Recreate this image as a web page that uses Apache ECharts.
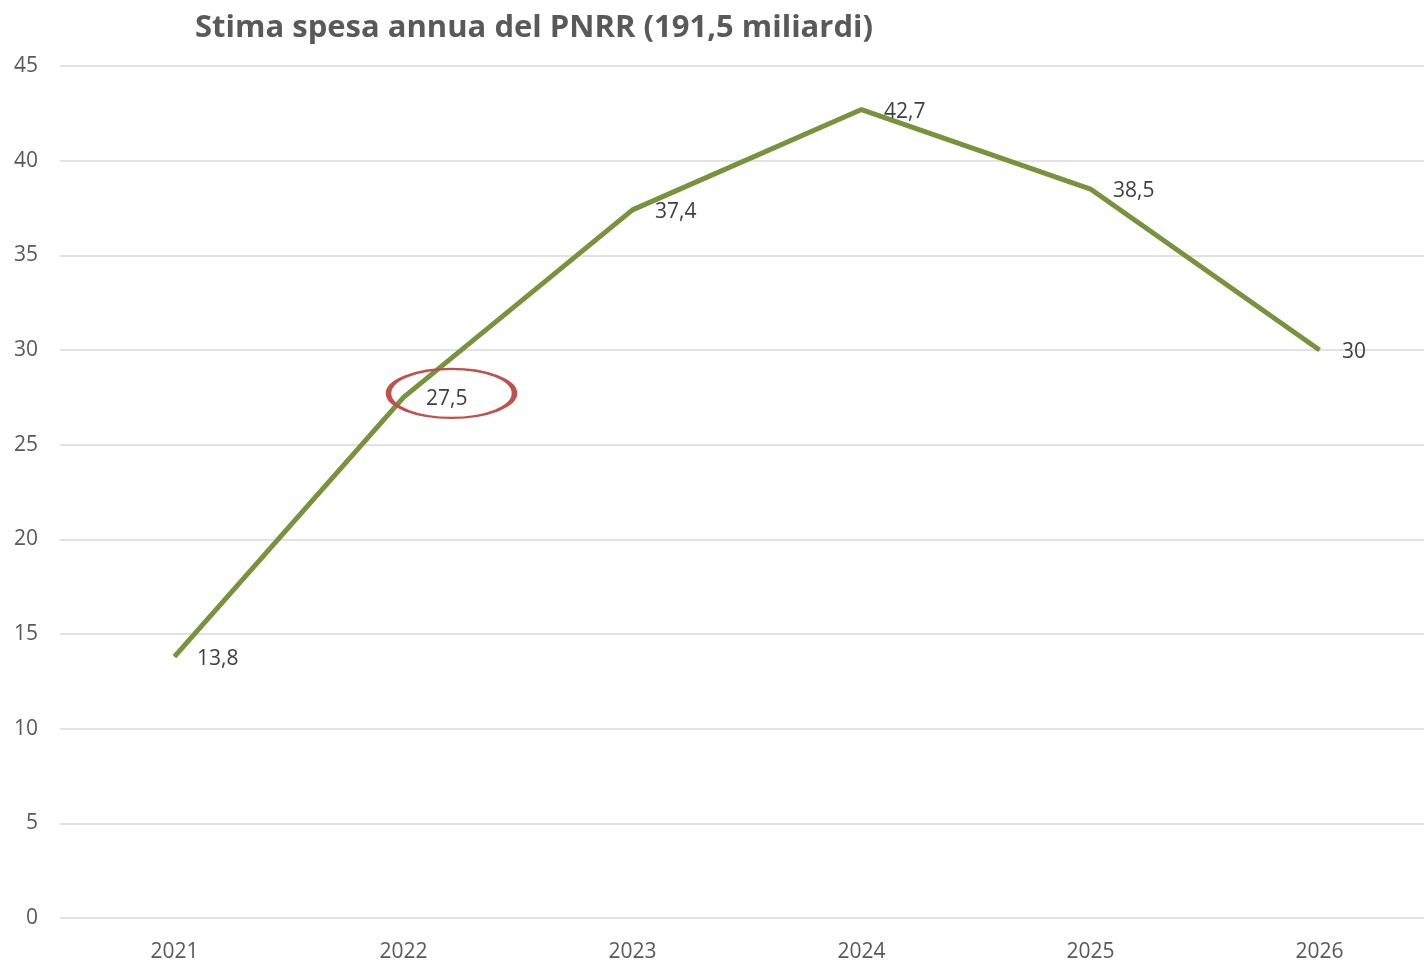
<!DOCTYPE html>
<html>
<head>
<meta charset="utf-8">
<script src="https://cdn.jsdelivr.net/npm/echarts@6/dist/echarts.min.js"></script>
<style>
  html, body { margin: 0; padding: 0; background: #fff; }
  #chart { width: 1424px; height: 960px; }
</style>
</head>
<body>
<div id="chart"></div>
<script>
// PNRR annual spending estimate, billions of euro
const years = ["2021", "2022", "2023", "2024", "2025", "2026"];
const spend = [13.8, 27.5, 37.4, 42.7, 38.5, 30];
const highlightYear = "2022"; // the circled point

const FONT = "'Open Sans', Lato, sans-serif";
const chart = echarts.init(document.getElementById("chart"));

chart.setOption({
  animation: false,
  backgroundColor: "#ffffff",
  title: {
    text: "Stima spesa annua del PNRR (191,5 miliardi)",
    left: 529, top: 8, textAlign: "center",
    textStyle: { color: "#595959", fontSize: 31, fontWeight: "bold", fontFamily: FONT },
  },
  // plot runs past the right edge of the canvas, like the original
  grid: { left: 60, width: 1374, top: 66, bottom: 42, outerBoundsMode: "none" },
  xAxis: {
    type: "category", data: years, boundaryGap: true,
    axisLine: { show: false }, axisTick: { show: false },
    axisLabel: { color: "#595959", fontSize: 21, fontFamily: FONT, margin: 24 },
  },
  yAxis: {
    type: "value", min: 0, max: 45, interval: 5,
    axisLine: { show: false }, axisTick: { show: false },
    axisLabel: { color: "#595959", fontSize: 21, fontFamily: FONT, margin: 22 },
    splitLine: { lineStyle: { color: "#d9d9d9", width: 1.5 } },
  },
  series: [{
    type: "line", data: spend,
    symbol: "circle", symbolSize: 1, showSymbol: true,
    itemStyle: { color: "#77933C" },
    lineStyle: { color: "#77933C", width: 5 },
    label: {
      show: true, position: "right", distance: 21, offset: [1, 2],
      color: "#404040", fontSize: 21, fontFamily: FONT,
      formatter: (p) => String(p.value).replace(".", ","),
    },
    markPoint: {
      silent: true,
      symbol: "circle", symbolSize: [126, 49], symbolOffset: [48, -4],
      itemStyle: { color: "rgba(0,0,0,0)", borderColor: "#C0504D", borderWidth: 3.5 },
      label: { show: false },
      data: [{ coord: [highlightYear, spend[years.indexOf(highlightYear)]] }],
    },
  }],
});
</script>
</body>
</html>
